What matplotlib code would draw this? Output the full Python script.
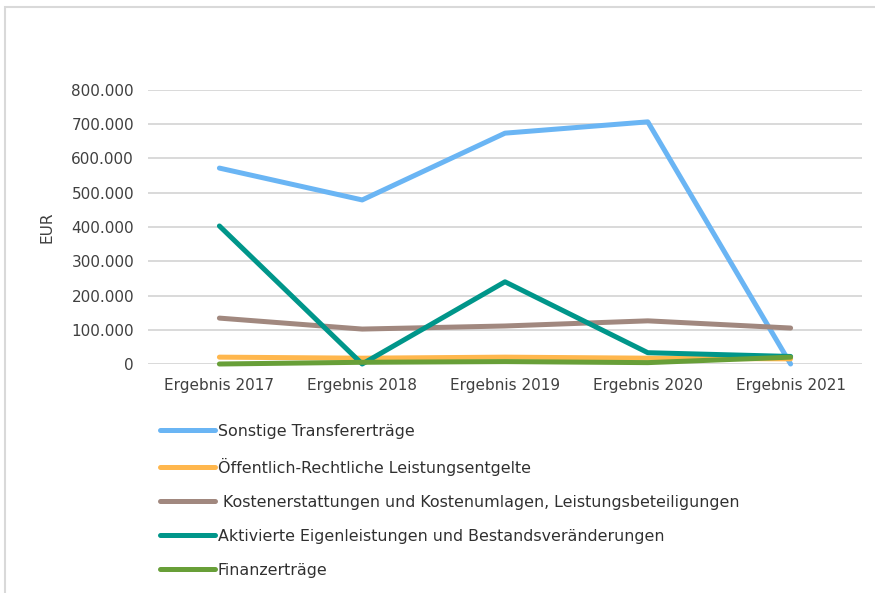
import matplotlib.pyplot as plt
from matplotlib.patches import Rectangle
from matplotlib.ticker import FuncFormatter

years = ['Ergebnis 2017', 'Ergebnis 2018', 'Ergebnis 2019', 'Ergebnis 2020', 'Ergebnis 2021']

sonstige = [572000, 479000, 674000, 707000, 0]
oeffentlich = [20000, 17000, 20000, 17000, 15000]
kosten = [134000, 102000, 111000, 126000, 105000]
aktivierte = [403000, 0, 240000, 33000, 22000]
finanz = [0, 5000, 7000, 4000, 20000]

labels = ['Sonstige Transfererträge',
          'Öffentlich-Rechtliche Leistungsentgelte',
          ' Kostenerstattungen und Kostenumlagen, Leistungsbeteiligungen',
          'Aktivierte Eigenleistungen und Bestandsveränderungen',
          'Finanzerträge']
colors = ['#6ab5f4', '#ffb74d', '#a1887f', '#00968a', '#689f38']

plt.rcParams['font.family'] = 'DejaVu Sans'

fig = plt.figure(figsize=(8.75, 5.93), dpi=100)
ax = fig.add_axes([148 / 875, 1 - 364 / 593, 714 / 875, 274 / 593])

# light frame around the chart area
fig.patches.append(Rectangle((5 / 875, -0.1), 1.2, 1 - 7 / 593 + 0.1,
                             transform=fig.transFigure, fill=False,
                             edgecolor='#d9d9d9', linewidth=1.5))

x = range(len(years))
series = [sonstige, oeffentlich, kosten, aktivierte, finanz]
for vals, lab, col in zip(series, labels, colors):
    ax.plot(x, vals, color=col, linewidth=3.6, label=lab, clip_on=False,
            solid_capstyle='round', solid_joinstyle='round')

ax.set_xlim(-0.5, len(years) - 0.5)
ax.set_ylim(0, 800000)
ax.set_yticks(range(0, 800001, 100000))
ax.yaxis.set_major_formatter(FuncFormatter(lambda v, p: f'{int(v):,}'.replace(',', '.')))
ax.set_xticks(list(x))
ax.set_xticklabels(years)
ax.tick_params(length=0, labelsize=11, colors='#404040')
ax.tick_params(axis='y', pad=10)
ax.tick_params(axis='x', pad=10)
ax.grid(axis='y', color='#d9d9d9', linewidth=1.4)
ax.set_axisbelow(True)
for s in ax.spines.values():
    s.set_visible(False)
ax.set_ylabel('EUR', fontsize=11, color='#404040', labelpad=12)

handles, labs = ax.get_legend_handles_labels()
fig.legend(handles, labs, loc='upper left', bbox_to_anchor=(160 / 875, 1 - 424 / 593),
           frameon=False, fontsize=11.4, handlelength=3.45, handletextpad=0.2,
           labelspacing=1.2, borderpad=0, borderaxespad=0, labelcolor='#303030')

fig.savefig('out.png', dpi=100)
